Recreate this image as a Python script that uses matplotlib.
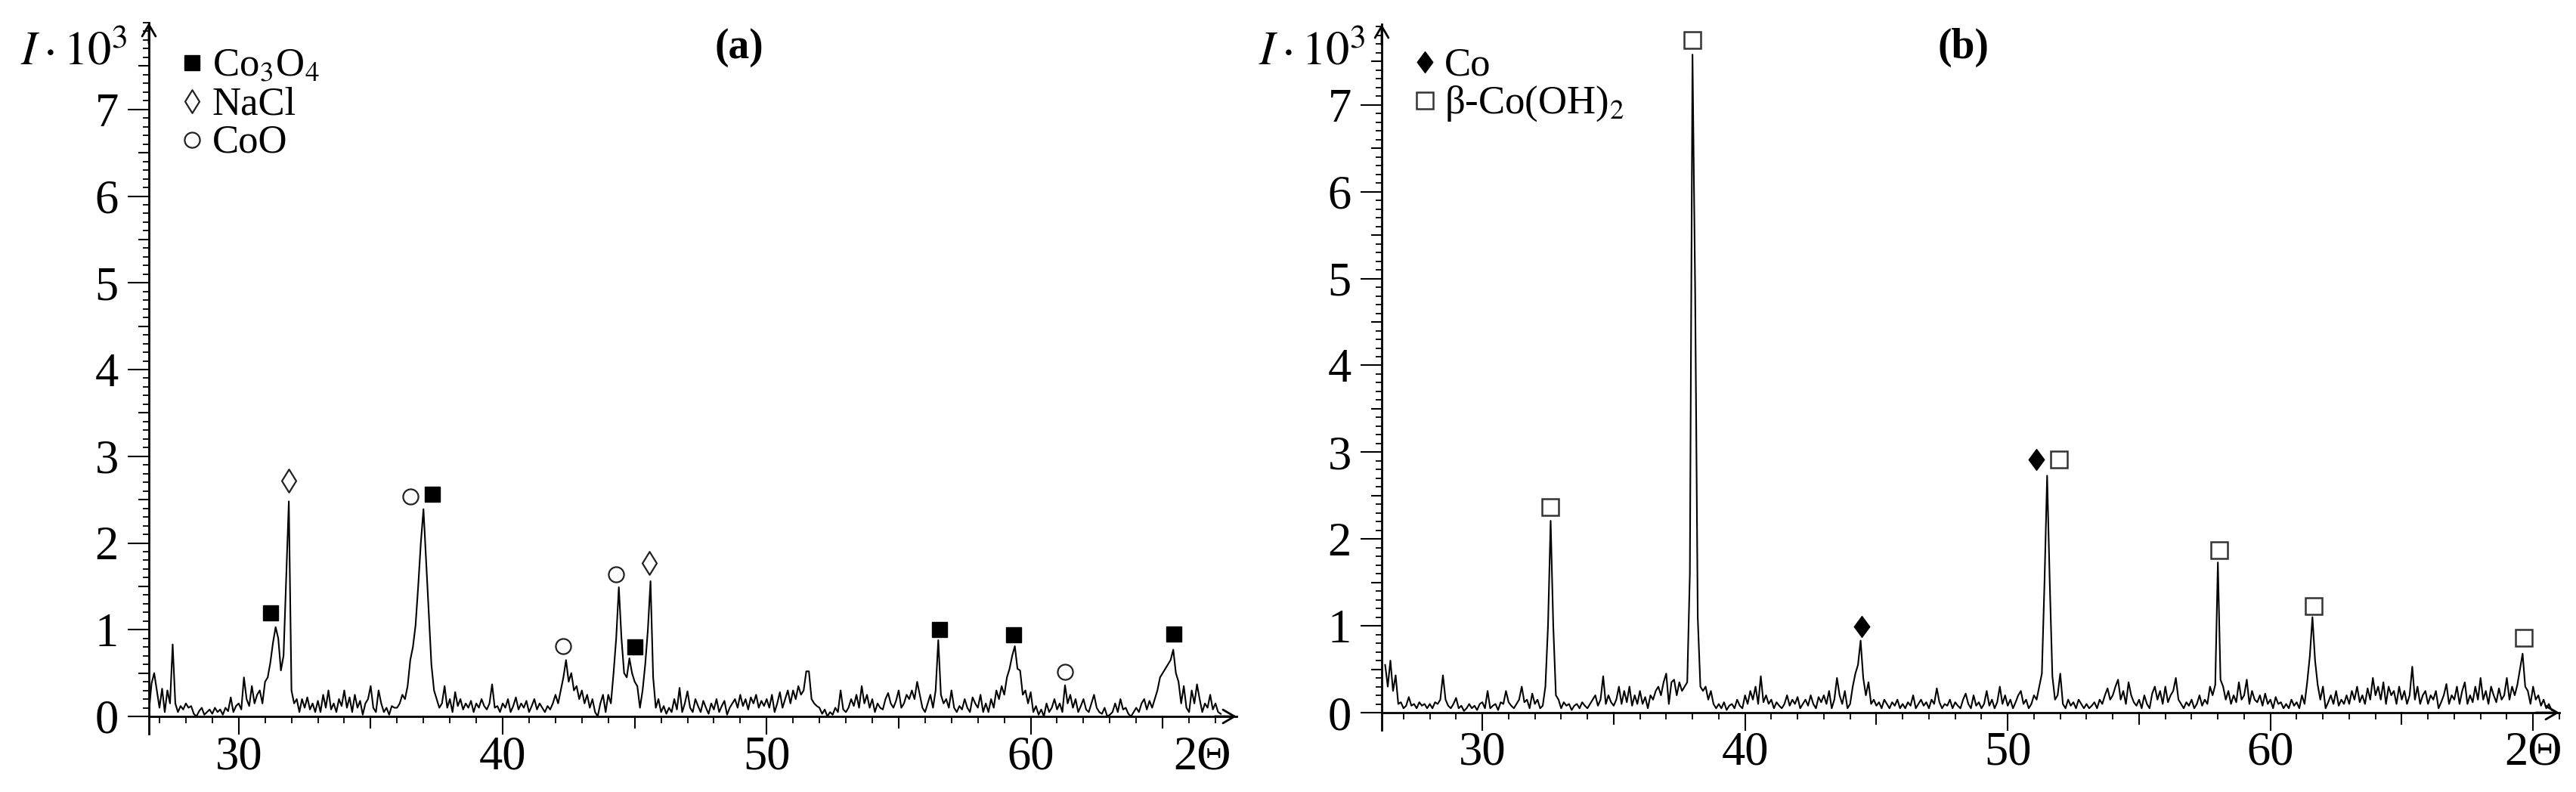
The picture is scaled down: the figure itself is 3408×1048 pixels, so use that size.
import numpy as np
import matplotlib
matplotlib.use("Agg")
import matplotlib.pyplot as plt
from matplotlib.path import Path
from matplotlib.ticker import MultipleLocator, FixedLocator

plt.rcParams['font.family'] = ['Liberation Serif', 'DejaVu Serif']
plt.rcParams['mathtext.fontset'] = 'stix'

# ---------------- data: panel (a) ----------------
two_theta_a = np.arange(266, 673) / 10.0          # 26.6 ... 67.2, step 0.1
intensity_a = np.array([
    0.05, 0.38, 0.50, 0.30,
    0.10, 0.32, 0.05, 0.30, 0.15, 0.83, 0.15, 0.05, 0.12, 0.08,
    0.15, 0.10, 0.12, 0.03, 0.00, 0.06, 0.10, 0.02, 0.05, 0.08,
    0.03, 0.10, 0.05, 0.08, 0.02, 0.10, 0.06, 0.22, 0.05, 0.12,
    0.15, 0.08, 0.45, 0.20, 0.12, 0.35, 0.15, 0.25, 0.30, 0.15,
    0.40, 0.45, 0.62, 0.85, 1.03, 0.90, 0.53, 0.70, 1.60, 2.48,
    0.30, 0.15, 0.20, 0.05, 0.20, 0.10, 0.22, 0.08, 0.15, 0.05,
    0.18, 0.05, 0.25, 0.10, 0.30, 0.08, 0.15, 0.05, 0.20, 0.12,
    0.30, 0.10, 0.22, 0.05, 0.25, 0.10, 0.18, 0.02, 0.15, 0.20,
    0.35, 0.10, 0.05, 0.30, 0.15, 0.05, 0.10, 0.02, 0.12, 0.10,
    0.10, 0.15, 0.25, 0.20, 0.35, 0.65, 0.80, 1.05, 1.50, 2.00,
    2.39, 1.80, 1.20, 0.60, 0.30, 0.20, 0.10, 0.15, 0.35, 0.10,
    0.20, 0.05, 0.28, 0.12, 0.20, 0.08, 0.15, 0.10, 0.18, 0.05,
    0.15, 0.10, 0.20, 0.12, 0.08, 0.15, 0.37, 0.10, 0.12, 0.05,
    0.15, 0.10, 0.20, 0.05, 0.12, 0.22, 0.08, 0.15, 0.10, 0.18,
    0.05, 0.12, 0.20, 0.08, 0.15, 0.10, 0.05, 0.12, 0.08, 0.15,
    0.25, 0.15, 0.30, 0.45, 0.65, 0.40, 0.50, 0.30, 0.35, 0.20,
    0.30, 0.15, 0.25, 0.10, 0.20, 0.05, 0.00, 0.15, 0.25, 0.05,
    0.25, 0.15, 0.50, 0.90, 1.49, 0.90, 0.50, 0.45, 0.67, 0.50,
    0.40, 0.35, 0.10, 0.30, 0.60, 1.00, 1.56, 0.45, 0.10, 0.20,
    0.05, 0.12, 0.03, 0.10, 0.05, 0.20, 0.08, 0.33, 0.05, 0.15,
    0.29, 0.10, 0.05, 0.20, 0.12, 0.05, 0.18, 0.10, 0.03, 0.15,
    0.08, 0.20, 0.05, 0.12, 0.18, 0.02, 0.10, 0.15, 0.20, 0.10,
    0.25, 0.12, 0.20, 0.08, 0.22, 0.15, 0.25, 0.10, 0.18, 0.12,
    0.20, 0.10, 0.25, 0.05, 0.15, 0.28, 0.10, 0.20, 0.30, 0.15,
    0.30, 0.20, 0.35, 0.25, 0.30, 0.52, 0.52, 0.20, 0.15, 0.12,
    0.10, 0.03, 0.08, 0.00, 0.05, 0.02, 0.10, 0.05, 0.30, 0.08,
    0.05, 0.10, 0.20, 0.12, 0.25, 0.10, 0.35, 0.15, 0.25, 0.10,
    0.20, 0.05, 0.15, 0.10, 0.08, 0.20, 0.27, 0.15, 0.10, 0.18,
    0.30, 0.10, 0.15, 0.25, 0.20, 0.30, 0.20, 0.40, 0.25, 0.10,
    0.05, 0.15, 0.25, 0.10, 0.30, 0.88, 0.25, 0.15, 0.20, 0.10,
    0.30, 0.10, 0.05, 0.12, 0.08, 0.20, 0.10, 0.05, 0.22, 0.15,
    0.10, 0.25, 0.05, 0.15, 0.05, 0.20, 0.10, 0.30, 0.20, 0.35,
    0.25, 0.45, 0.55, 0.70, 0.81, 0.55, 0.53, 0.25, 0.30, 0.15,
    0.28, 0.05, 0.12, 0.02, 0.08, 0.00, 0.15, 0.05, 0.10, 0.20,
    0.08, 0.15, 0.05, 0.36, 0.15, 0.25, 0.10, 0.20, 0.05, 0.12,
    0.20, 0.08, 0.05, 0.15, 0.25, 0.10, 0.05, 0.03, 0.10, 0.00,
    0.02, 0.05, 0.15, 0.05, 0.20, 0.08, 0.10, 0.03, 0.00, 0.05,
    0.10, 0.05, 0.15, 0.20, 0.08, 0.18, 0.10, 0.20, 0.30, 0.45,
    0.50, 0.55, 0.60, 0.65, 0.77, 0.50, 0.40, 0.15, 0.35, 0.10,
    0.05, 0.30, 0.15, 0.37, 0.20, 0.05, 0.15, 0.10, 0.25, 0.08,
    0.15, 0.05, 0.03,
])

# phase marks, panel (a)
co3o4_x = [31.2, 37.35, 45.0, 56.55, 59.35, 65.42]
co3o4_y = [1.19, 2.56, 0.80, 1.00, 0.94, 0.95]
nacl_x = [31.9, 45.55]
nacl_y = [2.72, 1.77]
coo_x = [36.5, 42.3, 44.28, 61.3]
coo_y = [2.54, 0.81, 1.64, 0.51]

# ---------------- data: panel (b) ----------------
two_theta_b = np.arange(263, 709) / 10.0          # 26.3 ... 70.8, step 0.1
intensity_b = np.array([
    0.55, 0.30, 0.60, 0.25, 0.43, 0.10, 0.12,
    0.05, 0.08, 0.18, 0.08, 0.10, 0.05, 0.12, 0.08, 0.10, 0.05,
    0.10, 0.05, 0.12, 0.10, 0.15, 0.43, 0.15, 0.08, 0.05, 0.10,
    0.17, 0.05, 0.08, 0.02, 0.05, 0.10, 0.05, 0.08, 0.03, 0.10,
    0.12, 0.05, 0.25, 0.05, 0.08, 0.10, 0.03, 0.12, 0.10, 0.25,
    0.12, 0.08, 0.05, 0.10, 0.15, 0.30, 0.12, 0.15, 0.05, 0.22,
    0.10, 0.15, 0.05, 0.08, 0.30, 1.00, 2.21, 1.00, 0.20, 0.15,
    0.05, 0.12, 0.08, 0.10, 0.03, 0.08, 0.10, 0.05, 0.12, 0.08,
    0.05, 0.10, 0.15, 0.20, 0.08, 0.15, 0.42, 0.10, 0.20, 0.12,
    0.08, 0.15, 0.30, 0.10, 0.25, 0.12, 0.30, 0.08, 0.20, 0.10,
    0.25, 0.10, 0.18, 0.05, 0.20, 0.15, 0.25, 0.30, 0.20, 0.35,
    0.45, 0.10, 0.35, 0.38, 0.20, 0.35, 0.25, 0.30, 0.35, 1.60,
    7.58, 4.90, 1.10, 0.30, 0.25, 0.30, 0.15, 0.25, 0.10, 0.05,
    0.10, 0.05, 0.12, 0.03, 0.08, 0.10, 0.05, 0.15, 0.08, 0.05,
    0.20, 0.10, 0.25, 0.15, 0.30, 0.10, 0.42, 0.12, 0.20, 0.10,
    0.15, 0.05, 0.12, 0.08, 0.05, 0.10, 0.20, 0.08, 0.15, 0.10,
    0.18, 0.05, 0.10, 0.15, 0.08, 0.20, 0.10, 0.05, 0.18, 0.12,
    0.20, 0.10, 0.25, 0.05, 0.15, 0.40, 0.20, 0.10, 0.25, 0.05,
    0.10, 0.30, 0.45, 0.55, 0.83, 0.40, 0.20, 0.35, 0.10, 0.15,
    0.08, 0.12, 0.05, 0.15, 0.10, 0.05, 0.12, 0.08, 0.15, 0.05,
    0.10, 0.05, 0.12, 0.08, 0.20, 0.05, 0.10, 0.15, 0.08, 0.12,
    0.05, 0.15, 0.10, 0.28, 0.12, 0.05, 0.10, 0.08, 0.15, 0.05,
    0.12, 0.08, 0.05, 0.15, 0.22, 0.10, 0.05, 0.20, 0.08, 0.12,
    0.05, 0.10, 0.25, 0.08, 0.15, 0.05, 0.12, 0.30, 0.10, 0.20,
    0.08, 0.15, 0.05, 0.12, 0.20, 0.25, 0.10, 0.15, 0.05, 0.10,
    0.20, 0.15, 0.30, 0.45, 1.50, 2.73, 1.50, 0.42, 0.15, 0.20,
    0.45, 0.10, 0.05, 0.15, 0.08, 0.12, 0.05, 0.15, 0.10, 0.05,
    0.10, 0.05, 0.08, 0.12, 0.05, 0.15, 0.10, 0.20, 0.28, 0.15,
    0.20, 0.30, 0.38, 0.15, 0.25, 0.10, 0.35, 0.20, 0.12, 0.08,
    0.15, 0.05, 0.20, 0.10, 0.05, 0.22, 0.30, 0.15, 0.25, 0.10,
    0.30, 0.12, 0.20, 0.25, 0.40, 0.15, 0.10, 0.05, 0.12, 0.08,
    0.15, 0.05, 0.10, 0.20, 0.08, 0.15, 0.10, 0.30, 0.20, 0.32,
    1.73, 0.38, 0.30, 0.15, 0.25, 0.10, 0.20, 0.12, 0.35, 0.15,
    0.20, 0.38, 0.10, 0.25, 0.15, 0.12, 0.20, 0.08, 0.22, 0.10,
    0.15, 0.05, 0.18, 0.10, 0.12, 0.05, 0.10, 0.05, 0.15, 0.08,
    0.12, 0.05, 0.20, 0.10, 0.35, 0.65, 1.10, 0.60, 0.32, 0.15,
    0.30, 0.05, 0.12, 0.20, 0.10, 0.25, 0.08, 0.15, 0.10, 0.20,
    0.10, 0.25, 0.15, 0.30, 0.12, 0.20, 0.10, 0.28, 0.15, 0.40,
    0.20, 0.30, 0.15, 0.35, 0.10, 0.30, 0.20, 0.25, 0.10, 0.30,
    0.15, 0.25, 0.10, 0.20, 0.53, 0.15, 0.30, 0.10, 0.20, 0.25,
    0.10, 0.20, 0.15, 0.25, 0.05, 0.12, 0.20, 0.33, 0.10, 0.20,
    0.15, 0.30, 0.10, 0.25, 0.35, 0.10, 0.20, 0.12, 0.30, 0.15,
    0.40, 0.15, 0.25, 0.10, 0.30, 0.20, 0.12, 0.28, 0.15, 0.20,
    0.40, 0.15, 0.30, 0.20, 0.32, 0.50, 0.68, 0.30, 0.25, 0.10,
    0.30, 0.15, 0.20, 0.08, 0.15, 0.05, 0.10, 0.03, 0.02,
])

# phase marks, panel (b)
cooh2_x = [32.6, 38.0, 51.95, 58.05, 61.65, 69.65]
cooh2_y = [2.37, 7.75, 2.92, 1.87, 1.23, 0.86]
co_x = [44.45, 51.1]
co_y = [0.99, 2.92]

xtick_a = [30, 40, 50, 60, 66.5]
xtick_b = [30, 40, 50, 60, 70]
xticklabels = ['30', '40', '50', '60', '2Θ']
ytick_vals = list(range(8))

# ---------------- figure ----------------
W, H = 3408, 1048
fig = plt.figure(figsize=(W / 100, H / 100), dpi=100)


def rect(l, r, b, t):
    return [l / W, 1 - b / H, (r - l) / W, (b - t) / H]


ax_a = fig.add_axes(rect(197, 1636, 948, 30))
ax_b = fig.add_axes(rect(1828, 3386, 943, 32))

open_diamond = Path([(0, 1), (0.62, 0), (0, -1), (-0.62, 0), (0, 1)],
                    [Path.MOVETO, Path.LINETO, Path.LINETO, Path.LINETO, Path.CLOSEPOLY])
solid_diamond = Path([(0, 1), (0.74, 0), (0, -1), (-0.74, 0), (0, 1)],
                     [Path.MOVETO, Path.LINETO, Path.LINETO, Path.LINETO, Path.CLOSEPOLY])

STY = {
    'co3o4': dict(marker='s', ms=15, mfc='black', mec='black', mew=1.0),
    'nacl': dict(marker=open_diamond, ms=22, mfc='white', mec='#222222', mew=1.6),
    'coo': dict(marker='o', ms=14.5, mfc='white', mec='#222222', mew=1.6),
    'cooh2': dict(marker='s', ms=16, mfc='white', mec='#333333', mew=1.8),
    'co': dict(marker=solid_diamond, ms=20, mfc='black', mec='black', mew=1.0),
}


def style_axes(ax, xlim, ylim, xticks, axw, axh):
    ax.set_xlim(*xlim)
    ax.set_ylim(*ylim)
    for s in ['top', 'right']:
        ax.spines[s].set_visible(False)
    for s in ['left', 'bottom']:
        ax.spines[s].set_linewidth(2.0)
    ax.xaxis.set_major_locator(FixedLocator(xticks))
    ax.set_xticklabels(xticklabels)
    ax.xaxis.set_minor_locator(MultipleLocator(1))
    ax.yaxis.set_major_locator(FixedLocator(ytick_vals))
    ax.yaxis.set_minor_locator(MultipleLocator(0.1))
    ax.tick_params(axis='x', which='major', length=17, width=1.5, labelsize=45, pad=1)
    ax.tick_params(axis='x', which='minor', length=6.5, width=1.3)
    ax.tick_params(axis='y', which='major', length=20, width=1.5, labelsize=45, pad=9)
    ax.tick_params(axis='y', which='minor', length=6, width=1.3)
    # medium ticks
    ty = ax.get_yaxis_transform()
    for v in np.arange(0.5, ylim[1], 1.0):
        ax.plot([0, -13 / axw], [v, v], color='black', lw=1.5, transform=ty, clip_on=False)
    tx = ax.get_xaxis_transform()
    for v in range(35, int(xlim[1]) + 1, 10):
        ax.plot([v, v], [0, -15 / axh], color='black', lw=1.5, transform=tx, clip_on=False)
    # y-axis continues below zero
    ax.plot([0, 0], [0, -23 / axh], color='black', lw=2.0, transform=ax.transAxes, clip_on=False)
    # arrow heads
    ap = dict(arrowstyle='->,head_length=0.55,head_width=0.32', lw=2.0, color='black',
              mutation_scale=20, shrinkA=0, shrinkB=0)
    ax.annotate('', xy=(0, 1.0), xytext=(0, 0.97), xycoords='axes fraction', arrowprops=ap)
    ax.annotate('', xy=(1.0, 0), xytext=(0.98, 0), xycoords='axes fraction', arrowprops=ap)


# panel (a)
ax_a.plot(two_theta_a, intensity_a, color='black', lw=1.5)
style_axes(ax_a, (26.6, 67.8), (0, 8.0), xtick_a, 1439, 918)
ax_a.xaxis.get_major_ticks()[4].tick1line.set_visible(False)
ax_a.plot(co3o4_x, co3o4_y, ls='none', **STY['co3o4'])
ax_a.plot(nacl_x, nacl_y, ls='none', **STY['nacl'])
ax_a.plot(coo_x, coo_y, ls='none', **STY['coo'])

# panel (b)
ax_b.plot(two_theta_b, intensity_b, color='black', lw=1.5)
style_axes(ax_b, (26.17, 71.0), (0, 7.93), xtick_b, 1558, 911)
ax_b.plot(cooh2_x, cooh2_y, ls='none', **STY['cooh2'])
ax_b.plot(co_x, co_y, ls='none', **STY['co'])

# axis captions
for xr in (168, 1806):
    fig.text(xr / W, 1 - 86 / H, r'$I\cdot10^3$', ha='right', va='baseline', fontsize=45)

# panel titles
fig.text(978 / W, 1 - 63 / H, '(a)', ha='center', va='center', fontsize=40, fontweight='bold')
fig.text(2597 / W, 1 - 63 / H, '(b)', ha='center', va='center', fontsize=40, fontweight='bold')

# legends
legend_a = [('co3o4', r'Co$_3$O$_4$', 83), ('nacl', 'NaCl', 134), ('coo', 'CoO', 185)]
legend_b = [('co', 'Co', 82), ('cooh2', r'β-Co(OH)$_2$', 133)]
for (mx, tx_), items in (((254, 281), legend_a), ((1885, 1911), legend_b)):
    for key, label, yy in items:
        fig.lines.append(plt.Line2D([mx / W], [1 - yy / H], transform=fig.transFigure,
                                    ls='none', **STY[key]))
        fig.text(tx_ / W, 1 - (yy + 17) / H, label, ha='left', va='baseline', fontsize=38)

fig.savefig('out.png', dpi=100)
